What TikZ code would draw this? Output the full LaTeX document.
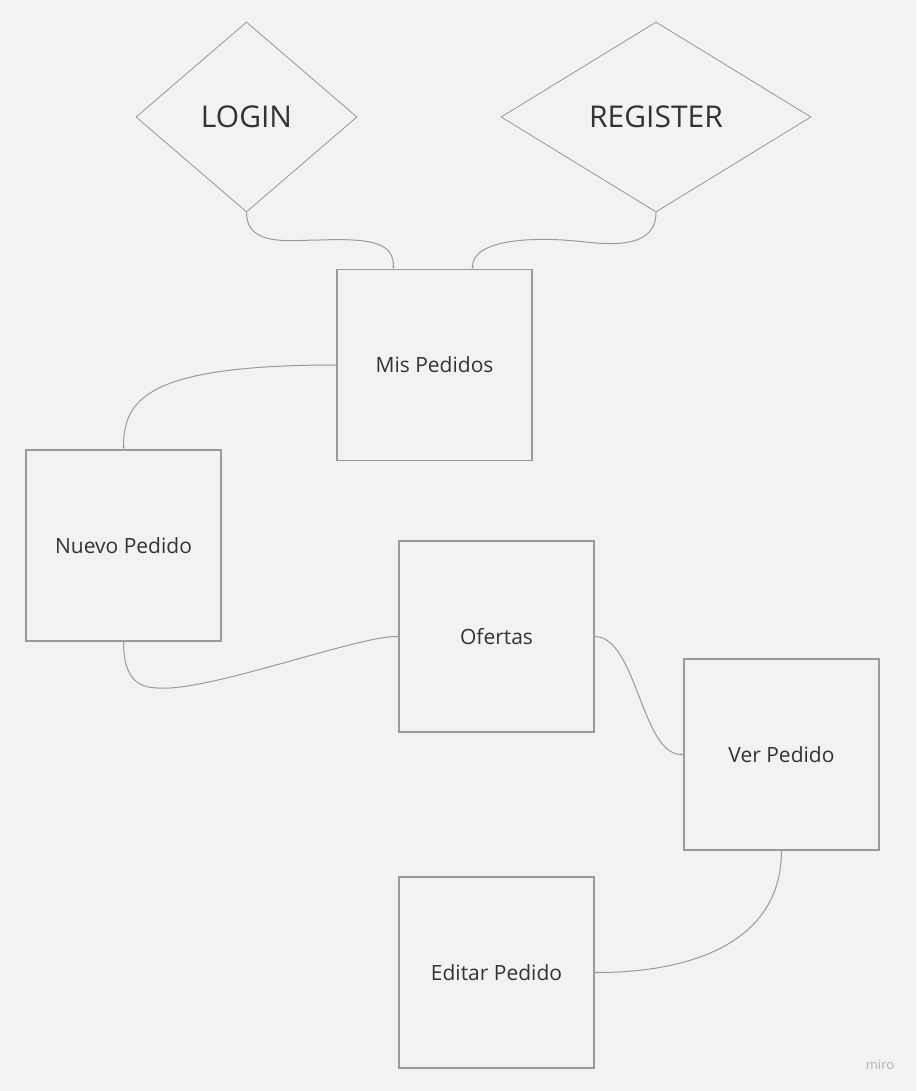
\documentclass[tikz,border=0pt]{standalone}
\usepackage{fontspec}
\setmainfont{Open Sans}
\usetikzlibrary{shapes.geometric,arrows.meta}
\definecolor{bg}{HTML}{F2F2F2}
\definecolor{edge}{HTML}{9A9A9A}
\definecolor{diam}{HTML}{8C8C8C}
\definecolor{txt}{HTML}{333333}
\begin{document}
\begin{tikzpicture}[x=1pt,y=-1pt,
  screen/.style={draw=edge, line width=1.2pt, minimum width=195pt, minimum height=191pt, inner sep=0pt, text=txt, font=\fontsize{21}{25}\selectfont},
  choice/.style={draw=diam, line width=0.7pt, shape=diamond, inner sep=0pt, text=txt, font=\fontsize{30}{34}\selectfont},
  link/.style={draw=edge, line width=1pt, -{Latex[length=2.5pt,width=2.5pt]}}]
\fill[bg] (0,0) rectangle (916,1091);
\useasboundingbox (0,0) rectangle (916,1091);

\node[choice, minimum width=221pt, minimum height=190pt] (login) at (246.5,117) {LOGIN};
\node[choice, minimum width=310pt, minimum height=190pt] (register) at (656,117) {REGISTER};

\node[screen] (mis) at (434.5,365) {Mis Pedidos};
\node[screen] (nuevo) at (123.5,545.5) {Nuevo Pedido};
\node[screen] (ofertas) at (496.5,636.5) {Ofertas};
\node[screen] (ver) at (781.5,754.5) {Ver Pedido};
\node[screen] (editar) at (496.5,972.5) {Editar Pedido};

\coordinate (c1) at (320,240);
\coordinate (c2) at (585,242);
\coordinate (c3) at (170,688);

\draw[link] (login.south) .. controls +(0,35) and +(-30,0) .. (c1) .. controls +(55,-2) and +(0,-25) .. ([xshift=-41pt]mis.north);
\draw[link] (register.south) .. controls +(0,35) and +(30,3) .. (c2) .. controls +(-50,-6) and +(0,-30) .. ([xshift=38pt]mis.north);
\draw[link] (mis.west) .. controls +(-190,0) and +(0,-50) .. (nuevo.north);
\draw[link] (nuevo.south) .. controls +(0,50) and +(-20,0) .. (c3) .. controls +(60,-4) and +(-40,0) .. (ofertas.west);
\draw[link] (ofertas.east) .. controls +(42,0) and +(-42,0) .. (ver.west);
\draw[link] (ver.south) .. controls +(0,90) and +(100,0) .. (editar.east);

\node[text=black!30, font=\fontsize{13}{15}\selectfont] (miro) at (880,1065) {miro};
\end{tikzpicture}
\end{document}
